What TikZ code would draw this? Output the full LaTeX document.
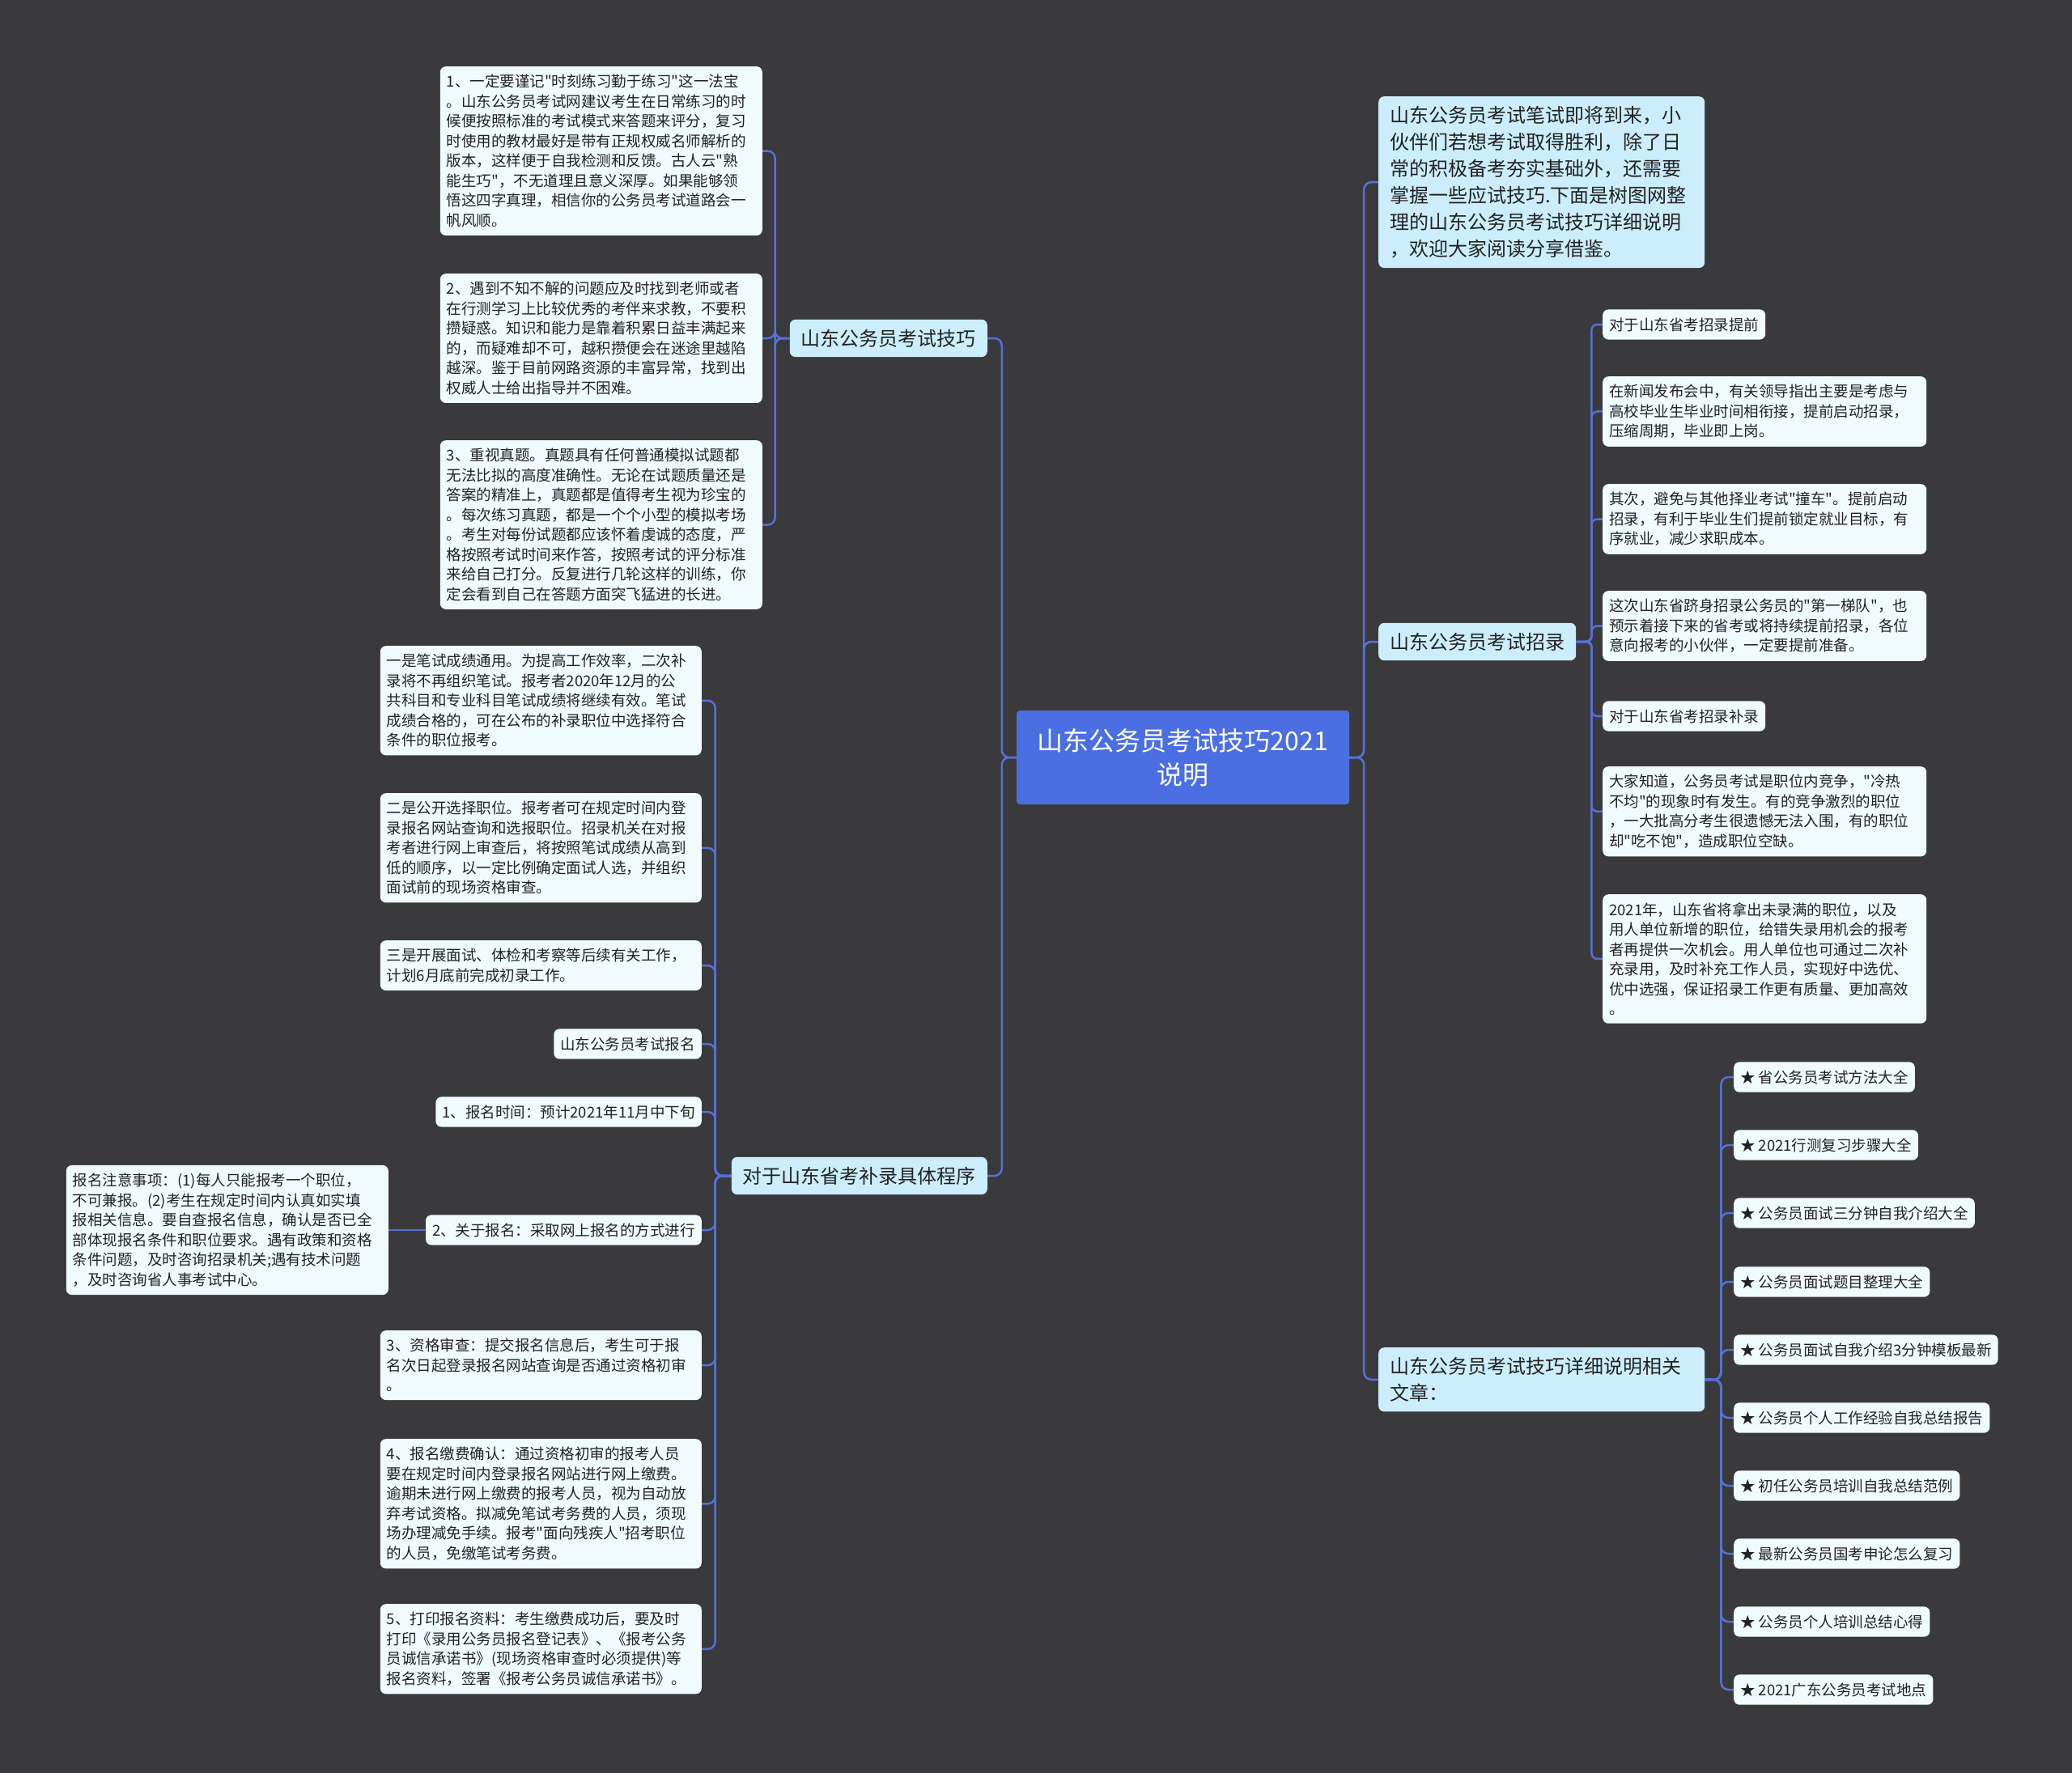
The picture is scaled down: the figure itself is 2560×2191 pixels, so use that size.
\documentclass[tikz,border=0pt]{standalone}
\usepackage{fontspec}
\setmainfont{Noto Sans CJK SC}[Ligatures=TeXOff]
\usetikzlibrary{calc}
\definecolor{bgc}{RGB}{58,57,60}
\definecolor{leafc}{RGB}{240,251,253}
\definecolor{lonec}{RGB}{204,238,252}
\definecolor{rootc}{RGB}{75,111,226}
\definecolor{linec}{RGB}{86,112,214}
\definecolor{txtc}{RGB}{34,34,34}
\begin{document}
\begin{tikzpicture}[x=1pt,y=-1pt,
  leaf/.style={fill=leafc, rounded corners=7pt, inner xsep=8pt, inner ysep=10pt, text=txtc, font=\fontsize{18.5}{24.5}\selectfont, align=left},
  lone/.style={fill=lonec, rounded corners=7pt, inner xsep=14pt, inner ysep=12pt, text=txtc, font=\fontsize{24}{33}\selectfont, align=left},
  rootbox/.style={fill=rootc, rounded corners=4pt, inner sep=0pt, text=white, font=\fontsize{32}{42}\selectfont, align=center, minimum width=411pt, minimum height=116pt},
  conn/.style={draw=linec, line width=2.5pt, rounded corners=9pt}]
\fill[bgc] (0,0) rectangle (2560,2191);
\useasboundingbox (0,0) rectangle (2560,2191);

% root
\node[rootbox] (root) at (1461.5,936) {山东公务员考试技巧2021\\说明};

% level 1
\node[lone, anchor=east] (tq) at (1220,418) {山东公务员考试技巧};
\node[lone, anchor=east] (bl) at (1220,1453) {对于山东省考补录具体程序};
\node[lone, anchor=north west, text width=375pt] (intro) at (1703,119) {山东公务员考试笔试即将到来，小\\伙伴们若想考试取得胜利，除了日\\常的积极备考夯实基础外，还需要\\掌握一些应试技巧.下面是树图网整\\理的山东公务员考试技巧详细说明\\，欢迎大家阅读分享借鉴。};
\node[lone, anchor=west] (zl) at (1703,793) {山东公务员考试招录};
\node[lone, anchor=north west, text width=375pt] (wz) at (1703,1665) {山东公务员考试技巧详细说明相关\\文章：};

% 技巧 leaves
\node[leaf, anchor=north east, text width=382pt] (L1) at (942,82) {1、一定要谨记"时刻练习勤于练习"这一法宝\\。山东公务员考试网建议考生在日常练习的时\\候便按照标准的考试模式来答题来评分，复习\\时使用的教材最好是带有正规权威名师解析的\\版本，这样便于自我检测和反馈。古人云"熟\\能生巧"，不无道理且意义深厚。如果能够领\\悟这四字真理，相信你的公务员考试道路会一\\帆风顺。};
\node[leaf, anchor=north east, text width=382pt] (L2) at (942,338) {2、遇到不知不解的问题应及时找到老师或者\\在行测学习上比较优秀的考伴来求教，不要积\\攒疑惑。知识和能力是靠着积累日益丰满起来\\的，而疑难却不可，越积攒便会在迷途里越陷\\越深。鉴于目前网路资源的丰富异常，找到出\\权威人士给出指导并不困难。};
\node[leaf, anchor=north east, text width=382pt] (L3) at (942,544) {3、重视真题。真题具有任何普通模拟试题都\\无法比拟的高度准确性。无论在试题质量还是\\答案的精准上，真题都是值得考生视为珍宝的\\。每次练习真题，都是一个个小型的模拟考场\\。考生对每份试题都应该怀着虔诚的态度，严\\格按照考试时间来作答，按照考试的评分标准\\来给自己打分。反复进行几轮这样的训练，你\\定会看到自己在答题方面突飞猛进的长进。};

% 补录 leaves
\node[leaf, anchor=north east, text width=381pt] (B1) at (867,798) {一是笔试成绩通用。为提高工作效率，二次补\\录将不再组织笔试。报考者2020年12月的公\\共科目和专业科目笔试成绩将继续有效。笔试\\成绩合格的，可在公布的补录职位中选择符合\\条件的职位报考。};
\node[leaf, anchor=north east, text width=381pt] (B2) at (867,980) {二是公开选择职位。报考者可在规定时间内登\\录报名网站查询和选报职位。招录机关在对报\\考者进行网上审查后，将按照笔试成绩从高到\\低的顺序，以一定比例确定面试人选，并组织\\面试前的现场资格审查。};
\node[leaf, anchor=north east, text width=381pt] (B3) at (867,1162) {三是开展面试、体检和考察等后续有关工作，\\计划6月底前完成初录工作。};
\node[leaf, anchor=east] (B4) at (867,1290) {山东公务员考试报名};
\node[leaf, anchor=east] (B5) at (867,1374) {1、报名时间：预计2021年11月中下旬};
\node[leaf, anchor=east] (B6) at (867,1520) {2、关于报名：采取网上报名的方式进行};
\node[leaf, anchor=east, text width=382pt] (note) at (480,1520) {报名注意事项：(1)每人只能报考一个职位，\\不可兼报。(2)考生在规定时间内认真如实填\\报相关信息。要自查报名信息，确认是否已全\\部体现报名条件和职位要求。遇有政策和资格\\条件问题，及时咨询招录机关;遇有技术问题\\，及时咨询省人事考试中心。};
\node[leaf, anchor=north east, text width=381pt] (B7) at (867,1644) {3、资格审查：提交报名信息后，考生可于报\\名次日起登录报名网站查询是否通过资格初审\\。};
\node[leaf, anchor=north east, text width=381pt] (B8) at (867,1778) {4、报名缴费确认：通过资格初审的报考人员\\要在规定时间内登录报名网站进行网上缴费。\\逾期未进行网上缴费的报考人员，视为自动放\\弃考试资格。拟减免笔试考务费的人员，须现\\场办理减免手续。报考"面向残疾人"招考职位\\的人员，免缴笔试考务费。};
\node[leaf, anchor=north east, text width=381pt] (B9) at (867,1982) {5、打印报名资料：考生缴费成功后，要及时\\打印《录用公务员报名登记表》、《报考公务\\员诚信承诺书》(现场资格审查时必须提供)等\\报名资料，签署《报考公务员诚信承诺书》。};

% 招录 leaves
\node[leaf, anchor=west] (R1) at (1980,401) {对于山东省考招录提前};
\node[leaf, anchor=north west, text width=384pt] (R2) at (1980,465) {在新闻发布会中，有关领导指出主要是考虑与\\高校毕业生毕业时间相衔接，提前启动招录，\\压缩周期，毕业即上岗。};
\node[leaf, anchor=north west, text width=384pt] (R3) at (1980,598) {其次，避免与其他择业考试"撞车"。提前启动\\招录，有利于毕业生们提前锁定就业目标，有\\序就业，减少求职成本。};
\node[leaf, anchor=north west, text width=384pt] (R4) at (1980,730) {这次山东省跻身招录公务员的"第一梯队"，也\\预示着接下来的省考或将持续提前招录，各位\\意向报考的小伙伴，一定要提前准备。};
\node[leaf, anchor=west] (R5) at (1980,885) {对于山东省考招录补录};
\node[leaf, anchor=north west, text width=384pt] (R6) at (1980,947) {大家知道，公务员考试是职位内竞争，"冷热\\不均"的现象时有发生。有的竞争激烈的职位\\，一大批高分考生很遗憾无法入围，有的职位\\却"吃不饱"，造成职位空缺。};
\node[leaf, anchor=north west, text width=384pt] (R7) at (1980,1105) {2021年，山东省将拿出未录满的职位，以及\\用人单位新增的职位，给错失录用机会的报考\\者再提供一次机会。用人单位也可通过二次补\\充录用，及时补充工作人员，实现好中选优、\\优中选强，保证招录工作更有质量、更加高效\\。};

% articles
\node[leaf, anchor=west] (A1) at (2142,1331) {★ 省公务员考试方法大全};
\node[leaf, anchor=west] (A2) at (2142,1415) {★ 2021行测复习步骤大全};
\node[leaf, anchor=west] (A3) at (2142,1499) {★ 公务员面试三分钟自我介绍大全};
\node[leaf, anchor=west] (A4) at (2142,1584) {★ 公务员面试题目整理大全};
\node[leaf, anchor=west] (A5) at (2142,1668) {★ 公务员面试自我介绍3分钟模板最新};
\node[leaf, anchor=west] (A6) at (2142,1752) {★ 公务员个人工作经验自我总结报告};
\node[leaf, anchor=west] (A7) at (2142,1836) {★ 初任公务员培训自我总结范例};
\node[leaf, anchor=west] (A8) at (2142,1920) {★ 最新公务员国考申论怎么复习};
\node[leaf, anchor=west] (A9) at (2142,2004) {★ 公务员个人培训总结心得};
\node[leaf, anchor=west] (A10) at (2142,2088) {★ 2021广东公务员考试地点};

% connectors: root
\foreach \c in {tq,bl} \draw[conn] (root.west) -- ++(-18,0) |- (\c.east);
\foreach \c in {intro,zl,wz} \draw[conn] (root.east) -- ++(18,0) |- (\c.west);
% 技巧
\foreach \c in {L1,L2,L3} \draw[conn] (tq.west) -- ++(-18,0) |- (\c.east);
% 补录
\foreach \c in {B1,B2,B3,B4,B5,B6,B7,B8,B9} \draw[conn] (bl.west) -- ++(-20,0) |- (\c.east);
\draw[conn] (B6.west) -- (note.east);
% 招录
\foreach \c in {R1,R2,R3,R4,R5,R6,R7} \draw[conn, rounded corners=7pt] (zl.east) -- ++(19,0) |- (\c.west);
% 文章
\foreach \c in {A1,A2,A3,A4,A5,A6,A7,A8,A9,A10} \draw[conn] (wz.east) -- ++(20,0) |- (\c.west);
\end{tikzpicture}
\end{document}
